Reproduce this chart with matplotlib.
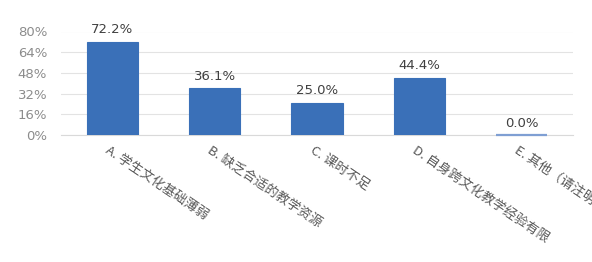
import matplotlib
matplotlib.use("Agg")
import matplotlib.pyplot as plt
import numpy as np

plt.rcParams['font.family'] = ['Noto Sans CJK SC', 'DejaVu Sans']

categories = ["A. 学生文化基础薄弱", "B. 缺乏合适的教学资源", "C. 课时不足",
              "D. 自身跨文化教学经验有限", "E. 其他（请注明）"]
values = [72.2, 36.1, 25.0, 44.4, 0.0]
yticks = [0, 16, 32, 48, 64, 80]

fig = plt.figure(figsize=(5.92, 2.62), dpi=100)
ax = fig.add_axes([61 / 592, 1 - 135 / 262, 512 / 592, 103.5 / 262])

x = np.arange(len(categories))
bars = ax.bar(x, values, width=0.5, color="#3A70B8", edgecolor="#3A70B8",
              linewidth=0.8, zorder=3)
# the zero bar shows only as a thin light line on the baseline
bars[-1].set_edgecolor("#7F9FD3")
bars[-1].set_linewidth(1.6)
bars[-1].set_clip_on(False)
for xi, v in zip(x, values):
    ax.text(xi, v + 4, f"{v:.1f}%", ha="center", va="bottom", fontsize=9.5,
            color="#404040", family=["DejaVu Sans"])

ax.set_xlim(-0.5, len(categories) - 0.5)
ax.set_ylim(0, 80)
ax.set_yticks(yticks)
ax.set_yticklabels([f"{t}%" for t in yticks], fontsize=9.5, color="#8C8C8C",
                   family=["DejaVu Sans"])
ax.grid(axis="y", color="#E3E3E3", linewidth=0.8, zorder=0)
ax.set_axisbelow(True)
for s in ax.spines.values():
    s.set_visible(False)
ax.spines["bottom"].set_visible(True)
ax.spines["bottom"].set_color("#D9D9D9")
ax.tick_params(axis="both", length=0)
ax.tick_params(axis="y", pad=10)

ax.set_xticks(x)
ax.set_xticklabels([])
for xi, lab in zip(x, categories):
    ax.text(xi - 0.02, -7, lab, rotation=-34, rotation_mode="anchor",
            ha="left", va="top", fontsize=9.5, color="#595959", clip_on=False)

fig.savefig("out.png", dpi=100)
